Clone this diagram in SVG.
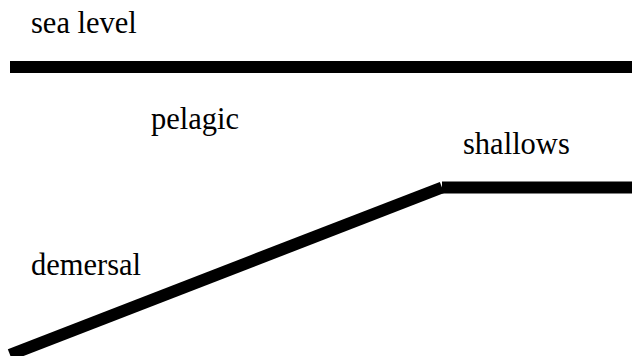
<svg xmlns="http://www.w3.org/2000/svg" width="632" height="356" viewBox="0 0 632 356">
<style>
.lbl{font-family:'Liberation Serif','Times New Roman',Tinos,'DejaVu Serif','Noto Serif',serif;font-size:30.5px;fill:#000}
.ln{stroke:#000;stroke-width:12;fill:none;stroke-linecap:butt}
</style>
<rect width="632" height="356" fill="#fff"/>
<g id="connectors">
<line class="ln" x1="10" y1="67" x2="632" y2="67"/>
<line class="ln" x1="10" y1="354.8" x2="442" y2="187.5"/>
<line class="ln" x1="442" y1="187.5" x2="632" y2="187.5"/>
</g>
<g id="sea-level"><text class="lbl" font-family="Liberation Serif, DejaVu Serif, serif" x="31" y="33">sea level</text></g>
<g id="pelagic"><text class="lbl" font-family="Liberation Serif, DejaVu Serif, serif" x="151" y="129">pelagic</text></g>
<g id="shallows"><text class="lbl" font-family="Liberation Serif, DejaVu Serif, serif" x="463" y="154">shallows</text></g>
<g id="demersal"><text class="lbl" font-family="Liberation Serif, DejaVu Serif, serif" x="31" y="275">demersal</text></g>
</svg>
